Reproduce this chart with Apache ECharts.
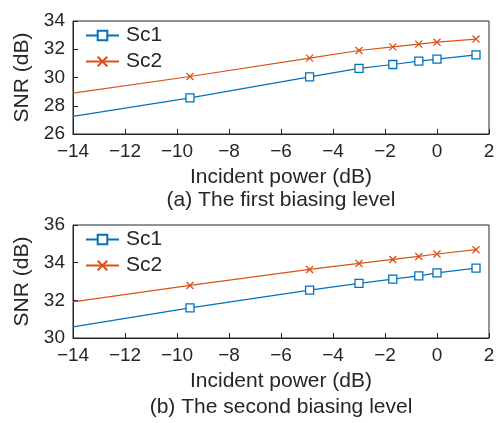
<!DOCTYPE html>
<html>
<head>
<meta charset="utf-8">
<script src="https://cdn.jsdelivr.net/npm/echarts@6/dist/echarts.min.js"></script>
<style>
html,body{margin:0;padding:0;background:#fff;}
#c{width:501px;height:423px;}
</style>
</head>
<body>
<div id="c"></div>
<script>
// Data
const xVals = [-14, -9.5, -4.9, -3, -1.7, -0.7, 0, 1.5];
const topSc1 = [27.25, 28.56, 30.05, 30.64, 30.92, 31.16, 31.3, 31.6];
const topSc2 = [28.9, 30.07, 31.37, 31.91, 32.17, 32.36, 32.5, 32.72];
const botSc1 = [30.59, 31.6, 32.54, 32.9, 33.13, 33.3, 33.46, 33.71];
const botSc2 = [31.92, 32.79, 33.64, 33.96, 34.17, 34.33, 34.46, 34.69];
const seriesNames = ['Sc1', 'Sc2'];
const xName = 'Incident power (dB)';
const yName = 'SNR (dB)';
const captions = ['(a) The first biasing level', '(b) The second biasing level'];

const FONT = "'Liberation Sans', Arial, sans-serif";
const TXT = '#262626';
const C1 = '#0072BD', C2 = '#D95319';
const CROSS = 'path://M0,0L10,10M10,0L0,10';

function pts(vals) {
  return xVals.map((x, i) => i === 0 ? {value: [x, vals[i]], symbol: 'none'} : [x, vals[i]]);
}
function fmtMinus(v) { return v < 0 ? '\u2212' + Math.abs(v) : String(v); }

const grids = [
  {left: 73, top: 21, width: 416, height: 113, show: true, borderColor: TXT, borderWidth: 1},
  {left: 73, top: 225, width: 416, height: 113, show: true, borderColor: TXT, borderWidth: 1}
];

function xAxis(gi) {
  return {
    type: 'value', gridIndex: gi, min: -14, max: 2, interval: 2,
    name: xName, nameLocation: 'middle', nameGap: 33,
    nameTextStyle: {fontFamily: FONT, fontSize: 21, color: TXT},
    axisLine: {onZero: false, lineStyle: {color: TXT, width: 1}},
    axisTick: {inside: true, length: 5, lineStyle: {color: TXT}},
    axisLabel: {fontFamily: FONT, fontSize: 19, color: TXT, margin: 8, formatter: fmtMinus},
    splitLine: {show: false}
  };
}
function yAxis(gi, min, max) {
  return {
    type: 'value', gridIndex: gi, min: min, max: max, interval: 2,
    name: yName, nameLocation: 'middle', nameGap: 36,
    nameTextStyle: {fontFamily: FONT, fontSize: 21, color: TXT},
    axisLine: {onZero: false, lineStyle: {color: TXT, width: 1}},
    axisTick: {inside: true, length: 5, lineStyle: {color: TXT}},
    axisLabel: {fontFamily: FONT, fontSize: 19, color: TXT, margin: 8},
    splitLine: {show: false}
  };
}
function mkSeries(gi, name, vals, color, sym) {
  return {
    type: 'line', name: name, xAxisIndex: gi, yAxisIndex: gi,
    data: pts(vals),
    symbol: sym, symbolSize: sym === CROSS ? 7 : 8,
    lineStyle: {color: color, width: 1.2},
    itemStyle: {color: sym === CROSS ? color : '#fff', borderColor: color, borderWidth: 1.3},
    animation: false
  };
}
function legend(top) {
  return {
    data: seriesNames, orient: 'vertical', left: 85, top: top, padding: 0,
    itemWidth: 33, itemHeight: 12, itemGap: 5,
    textStyle: {fontFamily: FONT, fontSize: 21, color: TXT, padding: [0, 0, 0, 2]}
  };
}

const chart = echarts.init(document.getElementById('c'), null, {renderer: 'canvas'});
chart.setOption({
  backgroundColor: '#fff',
  animation: false,
  grid: grids,
  xAxis: [xAxis(0), xAxis(1)],
  yAxis: [yAxis(0, 26, 34), yAxis(1, 30, 36)],
  legend: [legend(25), legend(229)],
  series: [
    mkSeries(0, seriesNames[0], topSc1, C1, 'rect'),
    mkSeries(0, seriesNames[1], topSc2, C2, CROSS),
    mkSeries(1, seriesNames[0], botSc1, C1, 'rect'),
    mkSeries(1, seriesNames[1], botSc2, C2, CROSS)
  ],
  graphic: [
    {type: 'text', x: 281, y: 200, style: {text: captions[0], font: "21px " + FONT, fill: TXT, textAlign: 'center', textVerticalAlign: 'middle'}},
    {type: 'text', x: 281, y: 407, style: {text: captions[1], font: "21px " + FONT, fill: TXT, textAlign: 'center', textVerticalAlign: 'middle'}}
  ]
});
</script>
</body>
</html>
